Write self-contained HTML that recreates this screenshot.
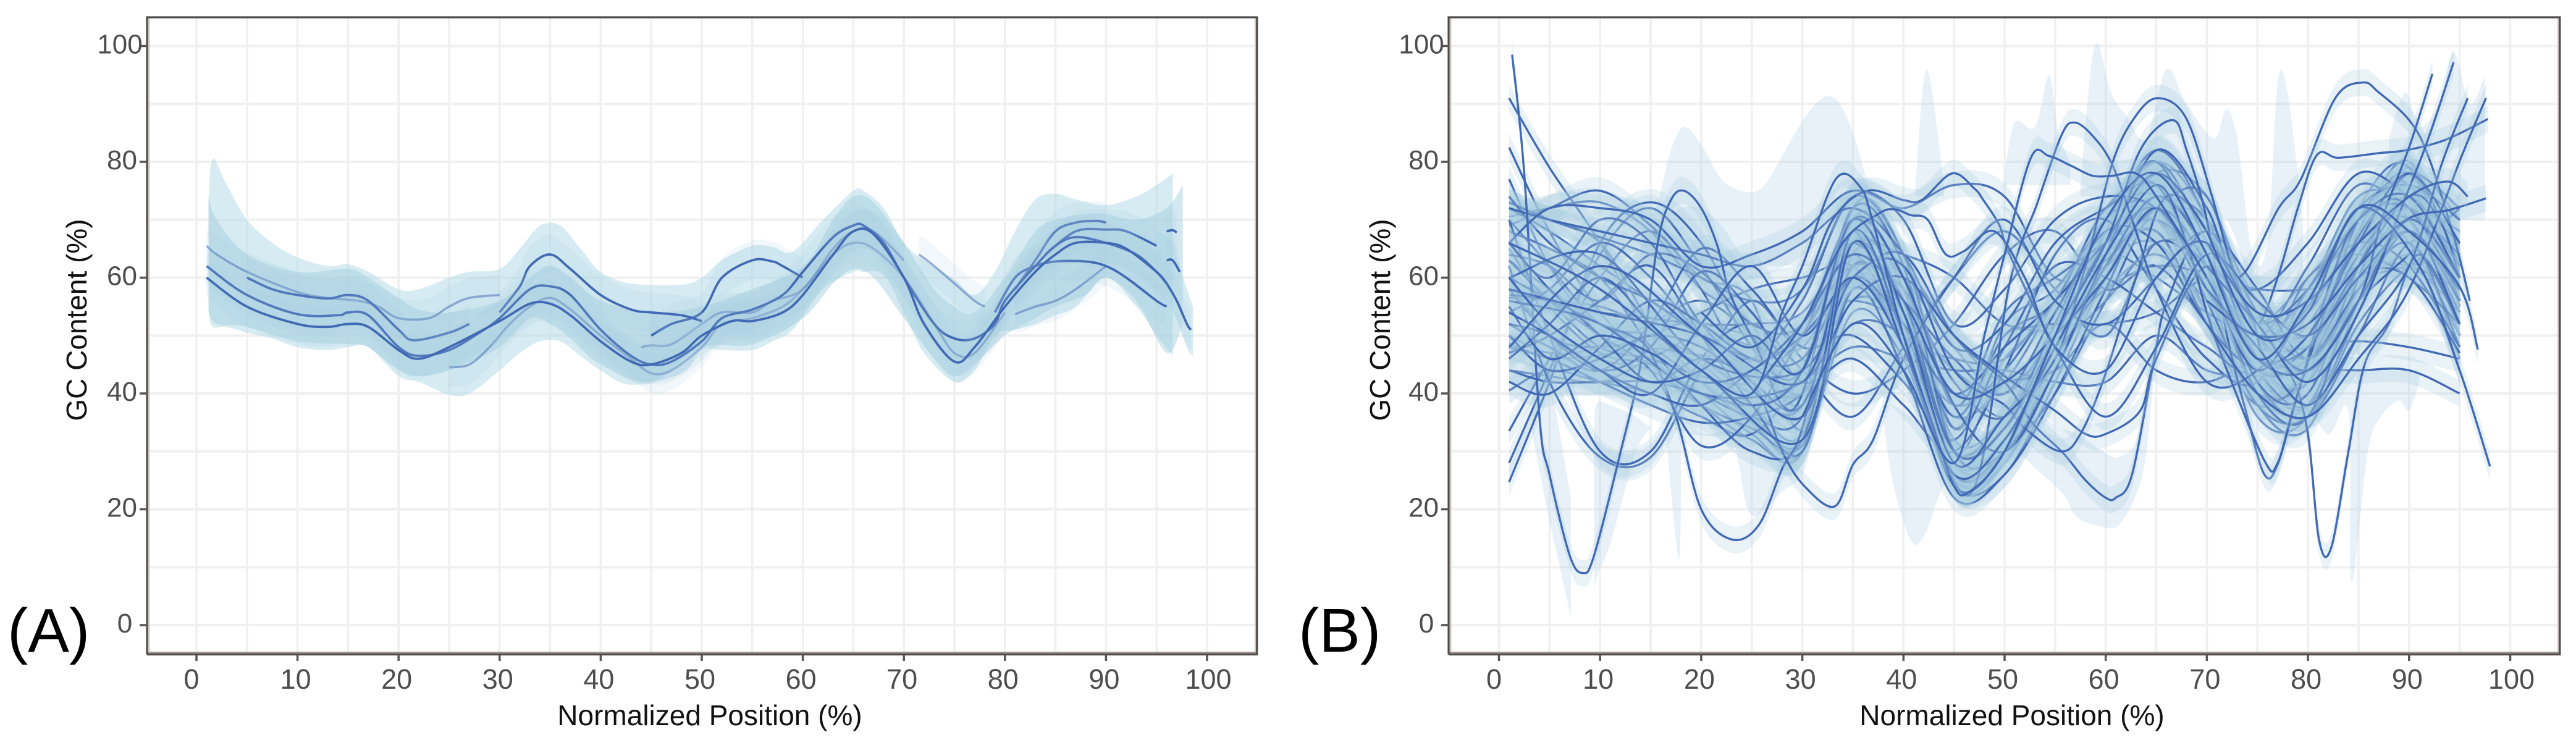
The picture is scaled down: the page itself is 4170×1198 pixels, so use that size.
<!DOCTYPE html>
<html lang="en">
<head>
<meta charset="utf-8">
<title>GC content across normalized position</title>
<style>
html,body{margin:0;padding:0;background:#fff;}
svg{display:block;}
text{font-family:"Liberation Sans",Arial,sans-serif;}
</style>
</head>
<body>
<svg id="figure" xmlns="http://www.w3.org/2000/svg" width="4170" height="1198" viewBox="0 0 4170 1198">
<rect x="0" y="0" width="4170" height="1198" fill="#ffffff"/>
<g id="panelA"></g>
<g id="panelB"></g>
<text x="12" y="1055" font-size="100" fill="#000">(A)</text>
<text x="2102" y="1055" font-size="100" fill="#000">(B)</text>
<text x="1149" y="1174" font-size="46" fill="#111" text-anchor="middle">Normalized Position (%)</text>
<text x="3257" y="1174" font-size="46" fill="#111" text-anchor="middle">Normalized Position (%)</text>
<text transform="translate(140,518) rotate(-90)" font-size="46" fill="#111" text-anchor="middle">GC Content (%)</text>
<text transform="translate(2250,518) rotate(-90)" font-size="46" fill="#111" text-anchor="middle">GC Content (%)</text>
</svg>
<script>
// ---------- axis data ----------
const xTickLabels = [0,10,20,30,40,50,60,70,80,90,100];
const yTickLabels = [0,20,40,60,80,100];
const xGridValues = [0,5,10,15,20,25,30,35,40,45,50,55,60,65,70,75,80,85,90,95,100];
const yGridValues = [0,10,20,30,40,50,60,70,80,90,100];

// ---------- panel A: wide confidence envelopes ----------
const aOuterX  = [1.2,1.6,3,5,7.5,10,13,15,17,20,22,25,27,30,32,34,36,38,40,43,48,50,52,55,57,59,62,65,66,68,70,72,75,77,79,81,83,85,87,90,93,95,96.6];
const aOuterHi = [73,80.5,76,70,66,63.5,62,62.3,61,58,58,60,61,61.5,65,69,69,65,61,59,58.8,60,63,65.5,65.3,64.5,70,75,75,72,66,63,59.7,57,61,68,73.5,74.5,73.5,72.5,74,76,78];
const aOuterLo = [54,51.5,51.5,50.5,49.5,48,47.5,48,48,43,42,39.8,40,44,47,49,49,46.5,44,41.5,43.5,47.5,47.5,47.5,49,51,58,61,61,60.5,54,47,42,44,50,51,52,53.5,55,60,55,50,46.5];
const aCoreX   = [1.2,2,5,10,15,17,20,22,25,30,33,35,37,40,45,50,55,60,63,65,67,70,73,75,77,80,83,85,88,90,93,96,97.6];
const aCoreHi  = [74,70,64,61,61.5,60,56.5,54.5,54,56,60,62,60,56,54,55,58,62,70,74,73,66,58,55,54,60,68,70,71,71,70,72,76];
const aCoreLo  = [54,52,51.5,49,48.5,48,44,43,44,48,53,52,49.5,45,42,48,48.5,53,59,61.5,60,53,46,43,45,50,53,55,57,60,56,47,52];
const aTailX   = [95,96.5,98,98.6];
const aTailHi  = [68,66,58,55];
const aTailLo  = [62,55,48,46.5];

// ---------- panel A: fitted lines ----------
const aLineFaint1X = [1,2,5,10,13,16,18,20,23,25,27,30];
const aLineFaint1Y = [65.5,64,61,57.5,56.5,56,55,53,53,55,56.5,57];
const aLineFaint2X = [25,27,29,31,33,35,37,40,43,45,47,50,52,55,58,60,63,65,67,70,73,75,77,80];
const aLineFaint2Y = [44.5,45,48,52,55,56.5,54.5,50,46,43.5,44,48,52,53,55,58,64,66,65,60,52,47,47,54];
const aLinePeakX   = [30,32,33,35,37,40,43,45,48,50];
const aLinePeakY   = [54,58.5,62,64,61.5,57,54.5,54,53.5,52.5];
const aLineHumpX   = [45,47,50,52,55,57,58,60];
const aLineHumpY   = [50,52,54,60,63,62.8,62,60];
const aLineUpperX  = [5,7.5,10,13,15,17,20,21.5,25,27];
const aLineUpperY  = [60,58,57,56.4,57,56,51,49.2,50.5,52];
const aLineMidX    = [44,45,47,50,52,55,57,60,63,65,67,70];
const aLineMidY    = [48,48.3,48.5,52,54,54,56,58,65,68,68,63];
const aLineDropX   = [71.5,73,75,77,78];
const aLineDropY   = [64,62,59,56,55];
const aLineRiseX   = [81,83,85,87,90];
const aLineRiseY   = [53.7,55,56,58,62];
const aLineArchX   = [79,81,83,85,88,90,92,95,96];
const aLineArchY   = [54,60,62,62.8,62.8,62,60,56,55];
const aLineTopX    = [81,83,85,87,89,90];
const aLineTopY    = [58,63,68,69.5,69.8,69.5];
const aLineShoulderX = [84,87,90,92,95];
const aLineShoulderY = [64,68,68.3,68,65.5];
const aLineTailX   = [96,97,98,98.4];
const aLineTailY   = [59,56,52,51];
const aLineStubX   = [96,96.6,97];
const aLineStubY   = [68,68.2,67.8];
const aLineStub2X  = [96,96.6,97.3];
const aLineStub2Y  = [63,63,61];
const aLineMain1X  = [1,5,10,14,15,17,20,22,25,28,30,33,35,37,40,43,45,47,50,52,55,58,60,63,65,66,68,70,73,75,77,79,80,83,85,87,90,93,95,96];
const aLineMain1Y  = [62,57,53.7,53.5,54,53.5,48,46.5,47.5,50.5,53,58,58.5,57,51,46.5,45,45.5,49,53,54.5,57,61,67,69,69,66,60,52,49.5,49.5,52,56,62,65.5,67,66,64,61,59];
const aLineMain2X  = [1,5,10,13,15,17,20,22,25,30,33,35,37,40,43,45,48,50,53,55,58,60,63,65,67,70,72,75,77,80,83,85,87,90,92,95,96];
const aLineMain2Y  = [60,55,52,51.5,52,51.5,47.5,46,48,52.5,55.5,55.5,53.5,49,45.5,45,47,50,52.5,52.5,54,57,64,68,67.5,60,52,45.5,48,55,61,64,66,66,65,61,59];

// ---------- panel B: shared positions and mid-density curves ----------
const bPositions = [1,5,10,15,20,25,30,35,40,45,50,55,60,65,70,75,80,85,90,95];
const bCurve01 = [91,79,66,50,45,38,33,62,56,30,36,52,66,78,64,44,44,66,76,64];
const bCurve02 = [82.5,68,54,46,40,33,30,66,60,26,30,50,68,80,70,46,40,62,78,70];
const bCurve03 = [77,62,50,45,38,32,30,60,50,24,28,46,64,76,60,40,38,60,74,66];
const bCurve04 = [73,70,66,52,42,35,30,58,48,25,28,44,62,74,58,36,36,58,72,60];
const bCurve05 = [70.5,72,73,68,58,52,36,70,62,30,46,54,70,72,68,50,44,64,79,62];
const bCurve06 = [69,72,75,69,60,56,34,72,64,34,50,52,68,72,70,56,48,68,80,58];
const bCurve07 = [63,58,52,48,42,36,32,64,56,28,30,46,64,78,74,54,50,72,79,55];
const bCurve08 = [60,52,46,44,38,34,31,54,46,24,26,42,60,72,58,38,34,56,70,64];
const bCurve09 = [57,56,55,52,52,50,48,62,54,44,36,48,62,66,54,40,44,58,64,60];
const bCurve10 = [50,47,48,52,56,50,40,68,58,32,36,50,64,70,60,44,46,64,72,50];
const bCurve11 = [48.6,46.2,46.6,47.8,46.6,45.6,50.5,56,50,26,30,50,66,70,54,40,44,62,68,46];
const bCurve12 = [44,43,42,46,50,48,42,60,54,44,40,50,58,64,56,46,52,66,70,52];
const bCurve13 = [40.5,44,42,40,36,33,44,68,52,30,36,52,64,68,52,42,54,70,66,44];
const bCurve14 = [33.5,46,60,68,58,42,36,56,50,26,30,48,68,80,66,44,38,60,76,60];
const bCurve15 = [28,44,64,72,62,48,38,58,52,28,32,48,68,82,70,46,42,66,72,56];
const bCurve16 = [24.7,42,66,73,66,50,40,60,54,30,34,52,70,76,64,44,48,70,74,52];
const bCurve17 = [70,62,52,50,46,40,38,66,60,48,40,50,58,62,60,52,50,60,62,54];
const bCurve18 = [65,55,47,45,40,36,36,64,62,50,42,48,56,66,64,53,54,68,70,60];
const bCurve19 = [72,68,62,56,50,44,40,60,50,36,42,56,70,74,58,44,56,72,66,50];
const bCurve20 = [60,50,48,50,54,58,60,62,50,46,46,56,64,60,54,50,56,62,62,58];
const bCurve21 = [73,70,67,64,60,56,58,74,72,76,74,60,62,70,58,52,60,70,78,72];
const bCurve22 = [56.5,56,54,53,52,52,54,66,64,60,52,52,52,54,60,58,58,60,62,64];
const bCurve23 = [44,42,42,42,40,38,42,48,46,44,44,42,42,50,44,43,44,44,44,40];
const bCurve24 = [48,46,42,38,35,36,40,52,50,40,42,44,52,44,42,46,48,49,48,46];
const bCurve25 = [63,56,48,46,43,42,50,64,50,38,44,56,63,68,52,38,44,60,72,68];
const bCurve26 = [68,65,60,48,38,30,32,62,52,26,30,40,56,72,70,50,58,74,72,56];
const bCurve27 = [62,42,29,29,44,56,46,40,44,52,64,68,58,62,52,40,42,58,68,62];
const bCurve28 = [70,50,30,30,46,52,44,36,48,60,68,58,50,66,60,44,38,54,74,70];
const bCurve29 = [60,56,50,44,31,36,50,62,58,42,36,52,70,72,56,38,36,52,62,66];
const bCurve30 = [64,62,56,64,61,52,52,70,60,34,52,58,70,80,62,40,44,68,78,60];
const bCurve31 = [54,58,66,60,50,44,50,70,56,36,50,56,72,76,58,48,50,70,68,48];
const bCurve32 = [66,60,70,66,52,46,56,74,64,38,54,60,66,70,62,50,62,76,70,54];
const bCurve33 = [52,48,44,52,65,58,48,50,42,32,48,62,60,54,48,44,60,64,60,52];
const bCurve34 = [58,50,44,48,61,54,42,46,38,30,44,64,70,58,46,42,58,66,62,48];
const bCurve35 = [47,50,56,62,50,38,30,58,44,22,26,40,58,74,64,42,36,50,66,62];
const bCurve36 = [74,66,60,56,50,46,44,72,62,30,30,44,62,72,74,50,46,70,76,56];
const bCurve37 = [50,44,46,50,48,42,38,62,56,46,40,54,68,66,52,44,46,60,60,47];
const bCurve38 = [42,40,48,56,52,46,46,60,52,40,48,56,66,72,60,44,46,56,64,72];
const bCurve39 = [72,70,68,66,64,62,66,72,64,48,52,66,72,76,60,52,58,72,76,70];
const bCurve40 = [66,72,72,70,62,64,68,75,70,52,58,70,74,72,62,58,66,78,74,66];

// ---------- panel B: clearly traceable curves ----------
const bDeepU8X = [1.3,2.5,4,5,7,8.3,9.4,12,14,15.7,17,18.3,20,21.6,22.9,25.5,28,30,33,35,37,40,45,50,55,60,65,70,75,80,85,90,95];
const bDeepU8Y = [98.5,78,36,26,12,9,12,29.7,45,66,73.4,75,72,65.5,57,48,38,40,60,68,62,50,26,32,46,60,72,62,40,36,60,78,62];
const bDeepU23X = [1.2,5,10,13,15,17.6,20,23,25.7,28,30,33,35,40,45,50,55,60,65,70,75,80,85,90,95];
const bDeepU23Y = [57,56,52,50,47,35.5,20,14.8,17.3,27,34,56,66,56,30,34,48,62,74,64,42,40,62,74,60];
const bLow33X = [1,5,10,15,20,25,28,30.2,33.2,35,37,40,45,50,55,60,65,70,75,80,85,90,95];
const bLow33Y = [66,58,50,42,46,42,30,24,20.5,27.7,32,46,60,70,56,52,60,68,58,46,58,70,64];
const bDeepU60X = [1,5,10,15,20,25,30,35,40,45,50,52.7,55.8,58,60,61,62.6,64.8,66.1,70,75,80,85,90,95];
const bDeepU60Y = [52,50,44,40,38,44,50,60,64,50,42,35,29.7,25,22,22,26,46,56,68,54,46,58,66,52];
const bU60HighX = [1,10,20,30,35,40,45,50,55,58,60,63.4,65,70,75,80,85,90,95];
const bU60HighY = [56,52,40,42,56,60,50,43,37,33,33,37,46,62,50,44,56,68,56];
const bU55X = [1,10,20,30,35,40,45,50,52,55.5,57.5,59.9,63,66,70,75,80,85,90,95];
const bU55Y = [60,64,46,44,60,62,44,38,34,30,33,43,60,74,68,46,48,64,72,62];
const bPeak85X = [1,5,10,15,20,25,30,35,40,45,50,55,60,65,70,73,77.1,79.3,82.7,85.4,87,90.1,92,94.6,96];
const bPeak85Y = [46,52,60,52,44,38,44,70,60,38,30,44,64,82,72,60,72,77,91,93.7,92,87,80.5,66,56];
const bPlateauX = [1,10,20,30,35,40,45,50,55,60,65,70,73,75,77,79,80.9,83,87,89.7,93.6,97.8];
const bPlateauY = [58,54,50,42,66,54,30,34,50,66,78,68,58,52,60,72,81.2,80.7,81.5,82,83.8,87.4];
const bLow82X = [1,5,10,15,20,25,30,35,40,45,50,55,60,65,70,75,78,79.9,81.1,82.3,84,85.6,88,91,95];
const bLow82Y = [55,46,50,47,42,44,52,64,56,40,42,50,60,72,58,46,44,34,14.7,13.4,30,45,52,64,52];
const bPeak57X = [1,5,10,15,20,25,30,35,40,46.5,50.5,53.2,55.6,56.9,58.7,60.7,63,65,70,75,80,85,90,95];
const bPeak57Y = [54,50,44,40,52,62,50,60,48,22.5,59,72.7,84.5,86.8,84.5,79.3,68,58,42,44,55,66,70,52];
const bPeak65X = [1,5,10,15,20,25,30,35,40,45,50,55,58,60.7,63,65.2,67.9,70.3,72.6,74.5,76,80,85,90,93,95];
const bPeak65Y = [60,52,46,42,44,50,44,70,54,28,36,46,62,80,88,91,87.7,75.3,61,53,46,48,62,74,70,60];
const bPeak66X = [1,10,20,30,35,40,45,50,55,60,63.4,66.6,68,70,72,74,75.7,77,79,82,85,90,95];
const bPeak66Y = [48,62,50,36,68,50,24,30,50,66,82,87.2,82,70,50,36,26,27.7,40,58,70,72,60];
const bTrough76X = [1,10,20,30,35,40,45,50,55,60,65,68,70,72,75.7,77,79,83,87,90,95];
const bTrough76Y = [66,58,44,32,66,48,26,32,48,64,76,66,54,44,28.4,28,40,60,72,72,58];
const bHigh45X = [20,25,30,33,36.4,40,41.8,44.8,47,47.9,49.5,50.5,55,60,65,70,75,80,85,90,95];
const bHigh45Y = [54,48,58,70,75,73.4,73.4,78,75.4,73.4,69,64,48,36,48,64,56,50,60,68,58];
const bHigh42X = [25,30,34,37.5,39.1,40.7,42.4,44.2,46,49,52,55,60,65,70,75,80,85,90,95];
const bHigh42Y = [40,52,66,71,71.8,70.8,70,64,64.6,68,60,48,44,60,66,52,44,56,70,60];
const bPeak35X = [15,20,25,28,30,33.3,35.7,37,40,43,45,46.5,50,55,60,65,70,75,80,85,90,95];
const bPeak35Y = [52,44,40,54,62,77,75.7,69.5,50,34,24,23,30,50,70,78,64,46,50,66,78,66];
const bPeak53X = [30,35,40,45,48,50,52.6,54.4,56.6,58.7,60.7,63,65,70,75,80,85,90,95];
const bPeak53Y = [36,52,44,28,50,64,80.7,81,79.3,77.6,77.6,78,74,60,44,56,70,74,60];
const bRiseEnd1X = [70,75,80,85,87.3,90.1,92.3];
const bRiseEnd1Y = [60,46,44,56,70,83,95.2];
const bRiseEnd2X = [70,75,80,85,89.9,92,94.4];
const bRiseEnd2Y = [62,52,42,54,75,84.5,97.2];
const bRiseEnd3X = [70,75,80,85,90,93.3,95.8];
const bRiseEnd3Y = [58,48,38,50,62,80,91];
const bRiseEnd4X = [70,75,80,85,90,95.2,97.6];
const bRiseEnd4Y = [52,40,36,46,58,81,91];
const bFlatEnd1X = [70,75,80,85,89.7,94,97.6];
const bFlatEnd1Y = [56,50,52,62,70,71.7,73.7];
const bFlatEnd2X = [70,75,80,85,90,93.8,95.8];
const bFlatEnd2Y = [66,54,56,66,74,76.6,74];
const bFallEnd1X = [70,75,80,85,91,95,98];
const bFallEnd1Y = [68,50,54,72,62,44,27.4];
const bFallEnd2X = [70,75,80,85,90,95,96.8];
const bFallEnd2Y = [64,46,56,72,68,58.4,47.6];

// ---------- panel B: wide pale confidence bands ----------
const bWideHumpX  = [14,15.5,17,18.3,20,22,24,26,28,30,32,33.5,35,36.5];
const bWideHumpHi = [70,72,82,86,83,77,75,75.5,81,87,91,90.5,85,76];
const bWideHumpLo = [62,62,62,62,62,62,62,62,62,62,62,62,62,62];
const bWideHump2X  = [14,16,18,20,22,24,26];
const bWideHump2Hi = [66,70,72,72,69,64,62];
const bWideHump2Lo = [60,60,60,60,60,60,60];
const bSpike43X  = [41.2,42.3,44];
const bSpike43Hi = [76,96,76];
const bSpike43Lo = [74,74,74];
const bSpike54X  = [50,51,53,54.4,55.3,56.5];
const bSpike54Hi = [78,86.8,86,95,85,80];
const bSpike54Lo = [76,76,76,76,76,76];
const bSpikes60X  = [57.5,58.9,60.5,62,64,66,67.9,70.7,71.9,73,74.5,76,77,78,79.5];
const bSpikes60Hi = [76,100,92,88,84,96,90.3,84,89,84,64,66,93.6,91.7,70];
const bSpikes60Lo = [74,74,74,74,74,74,74,70,70,66,58,58,58,58,58];
const bRightHiX  = [88,89.6,91,93,94.4,96,97.5];
const bRightHiHi = [84,92,86,90,99,90,95];
const bRightHiLo = [70,70,70,70,70,70,70];
const bDrop7X  = [3.3,5,7.1];
const bDrop7Hi = [46,42,22];
const bDrop7Lo = [33,18,1.6];
const bDrop10X  = [9.4,9.6,11,13.5,15];
const bDrop10Hi = [30,38,38,36,34];
const bDrop10Lo = [3,8,14,29.7,34];
const bDrop18X  = [16.5,17.8,18];
const bDrop18Hi = [34,34,34];
const bDrop18Lo = [33,11.4,33];
const bValley25X  = [22,23.7,25,28,30,31];
const bValley25Hi = [45,45,40,35,34,34];
const bValley25Lo = [44,28,19,23,26,32];
const bValley41X  = [38,38.9,40.7,42,43.4,45];
const bValley41Hi = [38,38,36,34,32,30];
const bValley41Lo = [36,25,14.7,15.3,21.8,28];
const bValley60X  = [49,51.6,55.6,57.2,59.7,61.3,63,64,65];
const bValley60Hi = [38,38,34,33,30,29,32,42,50];
const bValley60Lo = [37,29.7,23,18.6,17,17.3,22.5,29.7,48];
const bValley85X  = [79,81.9,84,84.3,85.9,87.2,89,90,91];
const bValley85Hi = [44,44,44,44,44,44,44,44,44];
const bValley85Lo = [42,33,37,7.5,29.7,36,38.8,37,42];

// Half width (in GC %) of the confidence ribbon around each fitted line
const aBandHalf = 3.4;
const bBandHalf = 2.3;

// ---------- collections ----------
const aFaintLines = [
  [aLineFaint1X,aLineFaint1Y],[aLineFaint2X,aLineFaint2Y],[aLineRiseX,aLineRiseY],
  [aLineMidX,aLineMidY],[aLineDropX,aLineDropY]
];
const aLines = [
  [aLineHumpX,aLineHumpY],
  [aLineStub2X,aLineStub2Y],[aLineStubX,aLineStubY],[aLineTailX,aLineTailY],
  [aLineUpperX,aLineUpperY],[aLinePeakX,aLinePeakY],[aLineTopX,aLineTopY],
  [aLineShoulderX,aLineShoulderY],[aLineArchX,aLineArchY],
  [aLineMain1X,aLineMain1Y],[aLineMain2X,aLineMain2Y]
];
const bWideBands = [
  [bWideHumpX,bWideHumpLo,bWideHumpHi],[bWideHump2X,bWideHump2Lo,bWideHump2Hi],
  [bSpike43X,bSpike43Lo,bSpike43Hi],[bSpike54X,bSpike54Lo,bSpike54Hi],
  [bSpikes60X,bSpikes60Lo,bSpikes60Hi],[bRightHiX,bRightHiLo,bRightHiHi],
  [bDrop7X,bDrop7Lo,bDrop7Hi],[bDrop10X,bDrop10Lo,bDrop10Hi],[bDrop18X,bDrop18Lo,bDrop18Hi],
  [bValley25X,bValley25Lo,bValley25Hi],[bValley41X,bValley41Lo,bValley41Hi],
  [bValley60X,bValley60Lo,bValley60Hi],[bValley85X,bValley85Lo,bValley85Hi]
];
const bLines = [
  [bPositions,bCurve01],[bPositions,bCurve02],[bPositions,bCurve03],[bPositions,bCurve04],
  [bPositions,bCurve05],[bPositions,bCurve06],[bPositions,bCurve07],[bPositions,bCurve08],
  [bPositions,bCurve09],[bPositions,bCurve10],[bPositions,bCurve11],[bPositions,bCurve12],
  [bPositions,bCurve13],[bPositions,bCurve14],[bPositions,bCurve15],[bPositions,bCurve16],
  [bPositions,bCurve17],[bPositions,bCurve18],[bPositions,bCurve19],[bPositions,bCurve20],
  [bPositions,bCurve21],[bPositions,bCurve22],[bPositions,bCurve23],[bPositions,bCurve24],
  [bPositions,bCurve25],[bPositions,bCurve26],[bPositions,bCurve27],[bPositions,bCurve28],
  [bPositions,bCurve29],[bPositions,bCurve30],[bPositions,bCurve31],[bPositions,bCurve32],
  [bPositions,bCurve33],[bPositions,bCurve34],[bPositions,bCurve35],[bPositions,bCurve36],
  [bPositions,bCurve37],[bPositions,bCurve38],[bPositions,bCurve39],[bPositions,bCurve40],
  [bDeepU8X,bDeepU8Y],[bDeepU23X,bDeepU23Y],[bLow33X,bLow33Y],[bDeepU60X,bDeepU60Y],
  [bU60HighX,bU60HighY],[bU55X,bU55Y],[bPeak85X,bPeak85Y],[bPlateauX,bPlateauY],
  [bLow82X,bLow82Y],[bPeak57X,bPeak57Y],[bPeak65X,bPeak65Y],[bPeak66X,bPeak66Y],
  [bTrough76X,bTrough76Y],[bHigh45X,bHigh45Y],[bHigh42X,bHigh42Y],[bPeak35X,bPeak35Y],
  [bPeak53X,bPeak53Y],[bRiseEnd1X,bRiseEnd1Y],[bRiseEnd2X,bRiseEnd2Y],[bRiseEnd3X,bRiseEnd3Y],
  [bRiseEnd4X,bRiseEnd4Y],[bFlatEnd1X,bFlatEnd1Y],[bFlatEnd2X,bFlatEnd2Y],
  [bFallEnd1X,bFallEnd1Y],[bFallEnd2X,bFallEnd2Y]
];

// ---------- drawing ----------
const NS = 'http://www.w3.org/2000/svg';
const LINE_COLOR = '#4169b4';
const yScale = v => 1012 - 9.375 * v;

function make(tag, parent, attrs) {
  const node = document.createElementNS(NS, tag);
  for (const key in attrs) node.setAttribute(key, attrs[key]);
  parent.appendChild(node);
  return node;
}

// Smooth Catmull-Rom path through pixel points
function smooth(pts, start) {
  let d = (start || 'M') + pts[0][0].toFixed(1) + ' ' + pts[0][1].toFixed(1);
  for (let i = 0; i < pts.length - 1; i++) {
    const p0 = pts[Math.max(i - 1, 0)], p1 = pts[i], p2 = pts[i + 1], p3 = pts[Math.min(i + 2, pts.length - 1)];
    const c1x = p1[0] + (p2[0] - p0[0]) / 6, c1y = p1[1] + (p2[1] - p0[1]) / 6;
    const c2x = p2[0] - (p3[0] - p1[0]) / 6, c2y = p2[1] - (p3[1] - p1[1]) / 6;
    d += 'C' + c1x.toFixed(1) + ' ' + c1y.toFixed(1) + ' ' + c2x.toFixed(1) + ' ' + c2y.toFixed(1) + ' ' + p2[0].toFixed(1) + ' ' + p2[1].toFixed(1);
  }
  return d;
}
function ribbonPath(xs, lo, hi, sx) {
  const top = xs.map((x, i) => [sx(x), yScale(hi[i])]);
  const bottom = xs.map((x, i) => [sx(x), yScale(lo[i])]).reverse();
  return smooth(top) + smooth(bottom, 'L') + 'Z';
}

function drawFrame(group, sx, left, right, prefix) {
  const top = 28, bottom = 1058;
  yGridValues.forEach(v => {
    const g = make('line', group, {x1: left, x2: right, y1: yScale(v), y2: yScale(v), stroke: '#f0f0f0', 'stroke-width': 4});
    
    
  });
  xGridValues.forEach(v => {
    const g = make('line', group, {x1: sx(v), x2: sx(v), y1: top, y2: bottom, stroke: '#f0f0f0', 'stroke-width': 3.5});
    
    
  });
}

function drawBorderAndTicks(group, sx, left, right, prefix) {
  const shadeR = make('rect', group, {x: right - 5, y: 30, width: 2.5, height: 1028, fill: '#c8c3bf'});
  
  
  const shadeL = make('rect', group, {x: left + 1.5, y: 30, width: 3, height: 1026, fill: '#cfcbc7'});
  
  
  const shadeB = make('rect', group, {x: left, y: 1055, width: right - left, height: 3.5, fill: '#a0968f'});
  
  
  const border = make('path', group, {d: 'M' + left + ' 1059.5V28H' + (right - 1.2) + 'V1059.5H' + left, fill: 'none', stroke: '#4f4b49', 'stroke-width': 3.2});
  
  
  yTickLabels.forEach(v => {
    const t = make('line', group, {x1: left - 12, x2: left, y1: yScale(v), y2: yScale(v), stroke: '#555', 'stroke-width': 3.5});
    
    
    const s = String(v);
    const label = make('text', group, {x: left - (s.length === 1 ? 36 : s.length === 2 ? 40.5 : 44), y: yScale(v) + 12, 'font-size': 44, fill: '#4d4d4d', 'text-anchor': 'middle'});
    label.textContent = s;
    
    
  });
  xTickLabels.forEach(v => {
    const t = make('line', group, {x1: sx(v), x2: sx(v), y1: 1060, y2: 1070, stroke: '#555', 'stroke-width': 3.5});
    
    
    const s = String(v);
    const label = make('text', group, {x: sx(v) + (s.length === 1 ? -8 : s.length === 2 ? -3 : 2), y: 1115, 'font-size': 45, fill: '#4d4d4d', 'text-anchor': 'middle'});
    label.textContent = s;
    
    
  });
}

function drawBand(group, sx, xs, lo, hi, fill, name) {
  const band = make('path', group, {d: ribbonPath(xs, lo, hi, sx), fill: fill, stroke: 'none'});
  
  
}

function drawSeries(group, sx, xs, ys, half, fill, width, opacity, prefix) {
  const lo = ys.map(v => v - half), hi = ys.map(v => v + half);
  drawBand(group, sx, xs, lo, hi, fill, prefix + '-line-ribbon');
  const line = make('path', group, {d: smooth(xs.map((x, i) => [sx(x), yScale(ys[i])])), fill: 'none', stroke: LINE_COLOR, 'stroke-width': width, 'stroke-opacity': opacity, 'stroke-linejoin': 'round'});
  
  
}

// Panel A
const groupA = document.getElementById('panelA');
const sxA = v => 318 + 16.36 * v;
drawFrame(groupA, sxA, 238, 2036, 'panel-a');
drawBand(groupA, sxA, aOuterX, aOuterLo, aOuterHi, 'rgba(173,216,230,0.5)', 'panel-a-outer-envelope');
drawBand(groupA, sxA, aCoreX, aCoreLo, aCoreHi, 'rgba(160,205,222,0.45)', 'panel-a-core-envelope');
drawBand(groupA, sxA, aTailX, aTailLo, aTailHi, 'rgba(173,216,230,0.5)', 'panel-a-tail-envelope');
aFaintLines.forEach(s => drawSeries(groupA, sxA, s[0], s[1], aBandHalf, 'rgba(165,208,225,0.16)', 3.6, 0.5, 'panel-a'));
aLines.forEach(s => drawSeries(groupA, sxA, s[0], s[1], aBandHalf, 'rgba(165,208,225,0.16)', 3.8, 1, 'panel-a'));

// Panel B
const groupB = document.getElementById('panelB');
const sxB = v => 2426.5 + 16.37 * v;
drawFrame(groupB, sxB, 2345, 4145, 'panel-b');
bWideBands.forEach(b => drawBand(groupB, sxB, b[0], b[1], b[2], 'rgba(170,205,225,0.28)', 'panel-b-wide-ribbon'));
bLines.forEach(s => drawSeries(groupB, sxB, s[0], s[1], bBandHalf, 'rgba(165,205,225,0.26)', 3.4, 1, 'panel-b'));

drawBorderAndTicks(groupA, sxA, 238, 2036, 'panel-a');
drawBorderAndTicks(groupB, sxB, 2345, 4145, 'panel-b');
</script>
</body>
</html>
